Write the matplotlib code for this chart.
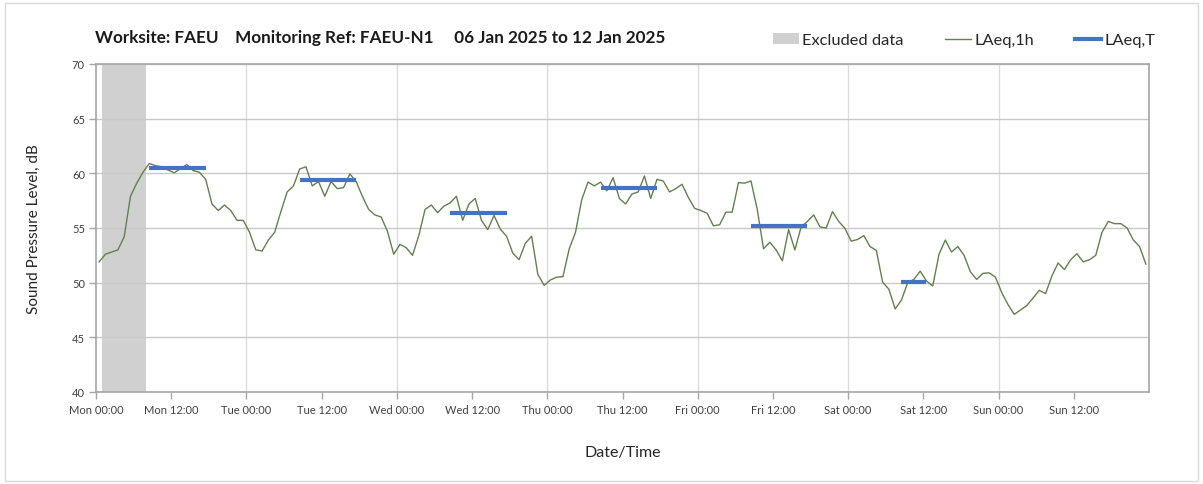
import numpy as np
import pandas as pd
import matplotlib
matplotlib.use('Agg')
import matplotlib.pyplot as plt
import matplotlib.dates as mdates
from matplotlib.patches import Rectangle, Patch
from matplotlib.lines import Line2D

plt.rcParams['font.family'] = ['Lato', 'DejaVu Sans']

# ---------------------------------------------------------------------------
# Data
# ---------------------------------------------------------------------------
start = pd.Timestamp('2025-01-06 00:00')

# hourly LAeq,1h values, Mon 00:00 .. Sun 23:00
laeq_1h = [
    # Mon
    51.9, 52.6, 52.8, 53.0, 54.2, 57.9, 59.1, 60.1, 60.9, 60.7, 60.6, 60.3,
    60.05, 60.45, 60.8, 60.25, 60.1, 59.45, 57.2, 56.6, 57.1, 56.6, 55.7, 55.7,
    # Tue
    54.6, 53.0, 52.9, 53.9, 54.6, 56.5, 58.3, 58.85, 60.4, 60.6, 58.85, 59.25,
    57.9, 59.25, 58.6, 58.7, 59.95, 59.25, 57.9, 56.7, 56.2, 56.0, 54.7, 52.6,
    # Wed
    53.5, 53.2, 52.5, 54.3, 56.7, 57.1, 56.4, 57.0, 57.3, 57.9, 55.7, 57.2,
    57.7, 55.7, 54.85, 56.15, 54.9, 54.25, 52.7, 52.1, 53.6, 54.25, 50.75, 49.75,
    # Thu
    50.25, 50.5, 50.55, 53.1, 54.6, 57.6, 59.2, 58.85, 59.2, 58.4, 59.6, 57.7,
    57.2, 58.1, 58.3, 59.75, 57.7, 59.45, 59.3, 58.3, 58.6, 59.0, 57.8, 56.8,
    # Fri
    56.6, 56.35, 55.2, 55.3, 56.45, 56.45, 59.15, 59.1, 59.3, 56.7, 53.1, 53.7,
    53.0, 52.0, 54.85, 53.0, 55.1, 55.6, 56.2, 55.1, 55.0, 56.5, 55.6, 54.95,
    # Sat
    53.8, 53.95, 54.3, 53.3, 52.95, 50.05, 49.4, 47.6, 48.4, 50.0, 50.3, 51.05,
    50.15, 49.7, 52.6, 53.9, 52.8, 53.3, 52.5, 51.0, 50.3, 50.85, 50.9, 50.5,
    # Sun
    49.1, 48.0, 47.1, 47.5, 47.9, 48.6, 49.3, 49.0, 50.6, 51.8, 51.2, 52.1,
    52.65, 51.9, 52.1, 52.5, 54.6, 55.6, 55.4, 55.4, 55.0, 53.9, 53.3, 51.7,
]

# daytime period LAeq,T (Mon-Fri 08:00-18:00, Sat 08:00-13:00)
period_start = ['2025-01-06 08:00', '2025-01-07 08:00', '2025-01-08 08:00',
                '2025-01-09 08:00', '2025-01-10 08:00', '2025-01-11 08:00']
period_end = ['2025-01-06 18:00', '2025-01-07 18:00', '2025-01-08 18:00',
              '2025-01-09 18:00', '2025-01-10 18:00', '2025-01-11 13:00']
laeq_t = [60.5, 59.4, 56.4, 58.7, 55.2, 50.1]

excluded_start = '2025-01-06 01:00'
excluded_end = '2025-01-06 08:00'

half_hour = pd.Timedelta(minutes=30)
times = pd.date_range(start, periods=len(laeq_1h), freq='h') + half_hour

# ---------------------------------------------------------------------------
# Figure
# ---------------------------------------------------------------------------
fig = plt.figure(figsize=(12.03, 4.85), dpi=100)
ax = fig.add_axes([96 / 1203, 1 - 393 / 485, (1149 - 96) / 1203, (393 - 65) / 485])

# outer chart border
fig.patches.append(Rectangle((5 / 1203, 3 / 485), 1193 / 1203, 478 / 485,
                             transform=fig.transFigure, fill=False,
                             edgecolor='#d9d9d9', linewidth=1.0))

ax.axvspan(pd.Timestamp(excluded_start), pd.Timestamp(excluded_end),
           color='#d0d0d0', lw=0, zorder=1)

ax.plot(times, laeq_1h, color='#62804f', lw=1.0, zorder=3)

for s, e, v in zip(period_start, period_end, laeq_t):
    ax.plot([pd.Timestamp(s) + half_hour, pd.Timestamp(e) - half_hour], [v, v],
            color='#4472c4', lw=3.0, solid_capstyle='butt', zorder=4)

x0 = start
x1 = start + pd.Timedelta(days=7)
ax.set_xlim(x0, x1)
ax.set_ylim(40, 70)

# grid
ax.set_yticks(np.arange(40, 71, 5))
ax.yaxis.grid(True, color='#c8c8c8', lw=1.0, zorder=0)
for d in pd.date_range(x0, x1, freq='D')[1:-1]:
    ax.axvline(d, color='#dcdcdc', lw=1.0, zorder=0)

ticks = pd.date_range(x0, x1 - pd.Timedelta(hours=12), freq='12h')
ax.set_xticks(ticks)
ax.xaxis.set_major_formatter(mdates.DateFormatter('%a %H:%M'))

for sp in ax.spines.values():
    sp.set_color('#a6a6a6')
    sp.set_linewidth(1.2)

ax.tick_params(axis='both', colors='#a6a6a6', labelcolor='#404040',
               length=5, width=1.0, labelsize=8)
ax.tick_params(axis='x', pad=4)
ax.tick_params(axis='y', pad=3)

ax.set_ylabel('Sound Pressure Level, dB', fontsize=11, color='#262626', labelpad=22)
ax.set_xlabel('Date/Time', fontsize=11.5, color='#262626', labelpad=21)

fig.text(95 / 1203, 1 - 38 / 485,
         'Worksite: FAEU    Monitoring Ref: FAEU-N1     06 Jan 2025 to 12 Jan 2025',
         fontsize=12.3, fontweight='bold', color='#1a1a1a', va='center', ha='left')

handles = [Patch(facecolor='#d0d0d0', edgecolor='none'),
           Line2D([], [], color='#62804f', lw=1.0),
           Line2D([], [], color='#4472c4', lw=3.0)]
labels = ['Excluded data', 'LAeq,1h', 'LAeq,T']
fig.legend(handles, labels, loc='center right', ncol=3, frameon=False,
           bbox_to_anchor=(1170 / 1203, 1 - 41 / 485), fontsize=11.8,
           handlelength=1.6, handletextpad=0.2, columnspacing=2.5,
           labelcolor='#262626')

fig.savefig('out.png', dpi=100, facecolor='white')
